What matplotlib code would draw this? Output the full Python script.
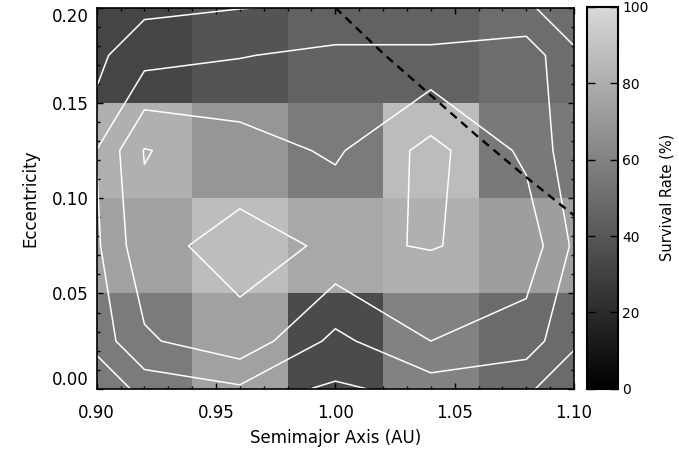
import numpy as np
import matplotlib
matplotlib.use('Agg')
import matplotlib.pyplot as plt
from matplotlib.colors import LinearSegmentedColormap
from matplotlib.ticker import MultipleLocator, FormatStrFormatter

# Grid of simulations (cell centres)
semimajor = [0.92, 0.96, 1.00, 1.04, 1.08]
eccentricity = [0.025, 0.075, 0.125, 0.175]

# Survival rate (%) per cell, rows go up in eccentricity
survival = np.array([
    [57.0, 74.0, 34.5, 60.0, 49.5],
    [74.0, 87.0, 77.0, 81.0, 73.0],
    [81.0, 69.0, 57.0, 86.5, 55.5],
    [32.0, 39.0, 45.0, 45.0, 50.0],
])
contour_levels = [20, 40, 60, 80]

# dashed boundary line
boundary_a = [1.00, 1.02, 1.04, 1.06, 1.08, 1.10]
boundary_e = [0.200, 0.176, 0.154, 0.132, 0.111, 0.091]

plt.rcParams['font.family'] = 'DejaVu Sans'

fig = plt.figure(figsize=(6.79, 4.5), dpi=100)
ax = fig.add_axes([0.1424, 0.1362, 0.7030, 0.8467])
cax = fig.add_axes([0.8645, 0.1358, 0.0457, 0.8493])

grey = LinearSegmentedColormap.from_list('grey', ['#000000', '#d9d9d9'])
mesh = ax.pcolormesh(semimajor, eccentricity, survival, shading='nearest',
                     cmap=grey, vmin=0, vmax=100)

# contours on a zero-padded grid so the lines run out to the frame
da = semimajor[1] - semimajor[0]
de = eccentricity[1] - eccentricity[0]
a_pad = np.concatenate([[semimajor[0] - da], semimajor, [semimajor[-1] + da]])
e_pad = np.concatenate([[eccentricity[0] - de], eccentricity, [eccentricity[-1] + de]])
ax.contour(a_pad, e_pad, np.pad(survival, 1), levels=contour_levels,
           colors='white', linewidths=1.1)

ax.plot(boundary_a, boundary_e, color='black', lw=1.7, linestyle=(0, (3.5, 2.5)))

ax.set_xlim(0.90, 1.10)
ax.set_ylim(0.0, 0.20)
ax.xaxis.set_major_locator(MultipleLocator(0.05))
ax.xaxis.set_minor_locator(MultipleLocator(0.01))
ax.yaxis.set_major_locator(MultipleLocator(0.05))
ax.yaxis.set_minor_locator(MultipleLocator(0.01))
ax.xaxis.set_major_formatter(FormatStrFormatter('%.2f'))
ax.yaxis.set_major_formatter(FormatStrFormatter('%.2f'))
ax.tick_params(which='both', direction='in', top=True, right=True, width=1.0)
ax.tick_params(which='major', length=4)
ax.tick_params(which='minor', length=2.5)
ax.tick_params(axis='x', labelsize=12, pad=11)
ax.tick_params(axis='y', labelsize=12, pad=6)
for s in ax.spines.values():
    s.set_linewidth(1.2)

ax.set_xlabel('Semimajor Axis (AU)', fontsize=12, labelpad=5)
ax.set_ylabel('Eccentricity', fontsize=12, labelpad=9)

# keep the end labels inside the frame
yticks = ax.yaxis.get_major_ticks()
fig.canvas.draw()
locs = ax.get_yticks()
for t, v in zip(yticks, locs):
    if abs(v - 0.20) < 1e-6:
        t.label1.set_va('top')
    elif abs(v) < 1e-6:
        t.label1.set_va('bottom')

cb = fig.colorbar(mesh, cax=cax, ticks=[0, 20, 40, 60, 80, 100])
cb.outline.set_linewidth(1.5)
cax.tick_params(direction='in', length=6, width=1.0, left=True, right=True,
                labelsize=10, pad=3)
cb.set_label('Survival Rate (%)', fontsize=10.5, labelpad=8)

fig.savefig('out.png', dpi=100)
